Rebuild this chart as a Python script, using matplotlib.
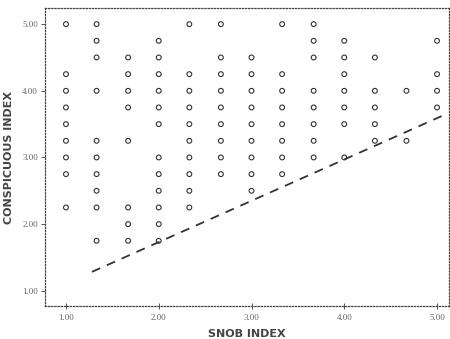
import matplotlib
matplotlib.use('Agg')
import matplotlib.pyplot as plt

# Valores do gráfico
snob_cols = [1.00, 1.33, 1.67, 2.00, 2.33, 2.67, 3.00, 3.33, 3.67, 4.00, 4.33, 4.67, 5.00]
consp_cols = [
    [5.0, 4.25, 4.0, 3.75, 3.5, 3.25, 3.0, 2.75, 2.25],
    [5.0, 4.75, 4.5, 4.0, 3.25, 3.0, 2.75, 2.5, 2.25, 1.75],
    [4.5, 4.25, 4.0, 3.75, 3.25, 2.25, 2.0, 1.75],
    [4.75, 4.5, 4.25, 4.0, 3.75, 3.5, 3.0, 2.75, 2.5, 2.25, 2.0, 1.75],
    [5.0, 4.25, 4.0, 3.75, 3.5, 3.25, 3.0, 2.75, 2.5, 2.25],
    [5.0, 4.5, 4.25, 4.0, 3.75, 3.5, 3.25, 3.0, 2.75],
    [4.5, 4.25, 4.0, 3.75, 3.5, 3.25, 3.0, 2.75, 2.5],
    [5.0, 4.25, 4.0, 3.75, 3.5, 3.25, 3.0, 2.75],
    [5.0, 4.75, 4.5, 4.0, 3.75, 3.5, 3.25, 3.0],
    [4.75, 4.5, 4.25, 4.0, 3.75, 3.5, 3.0],
    [4.5, 4.0, 3.75, 3.5, 3.25],
    [4.0, 3.25],
    [4.75, 4.25, 4.0, 3.75],
]

# Linha de ajuste (intercepto, inclinação) e extremos em x
fit_intercept = 0.49
fit_slope = 0.62
fit_x = [1.28, 5.07]

xticks = [1.0, 2.0, 3.0, 4.0, 5.0]
yticks = [1.0, 2.0, 3.0, 4.0, 5.0]

# Montar os pares de pontos
x = []
y = []
for xc, ys in zip(snob_cols, consp_cols):
    for yv in ys:
        x.append(xc)
        y.append(yv)

fig = plt.figure(figsize=(4.5, 3.39), dpi=100)
ax = fig.add_axes([0.1, 0.097, 0.898, 0.879])

ax.scatter(x, y, s=12, facecolors='none', edgecolors='#333333', linewidths=0.8, zorder=3)

fit_y = [fit_intercept + fit_slope * v for v in fit_x]
ax.plot(fit_x, fit_y, color='#333333', linewidth=1.3, dashes=(5, 4), zorder=2)

ax.set_xlim(0.774, 5.13)
ax.set_ylim(0.77, 5.24)
ax.set_xticks(xticks)
ax.set_yticks(yticks)
ax.set_xticklabels(['%.2f' % t for t in xticks], fontsize=6.5, color='#666666', family='Liberation Serif')
ax.set_yticklabels(['%.2f' % t for t in yticks], fontsize=6.5, color='#666666', family='Liberation Serif')
ax.tick_params(axis='x', direction='inout', length=5, width=0.7, color='#555555', pad=3)
ax.tick_params(axis='y', direction='out', length=3, width=0.7, color='#555555', pad=2)

# Bordas pontilhadas
for lado in ['top', 'bottom', 'left', 'right']:
    ax.spines[lado].set_linestyle((0, (1, 1.5)))
    ax.spines[lado].set_linewidth(0.9)
    ax.spines[lado].set_color('#444444')

ax.set_xlabel('SNOB INDEX', fontsize=8, fontweight='bold', color='#444444', labelpad=5)
ax.set_ylabel('CONSPICUOUS INDEX', fontsize=8, fontweight='bold', color='#444444', labelpad=6)

fig.savefig('out.png', dpi=100)
